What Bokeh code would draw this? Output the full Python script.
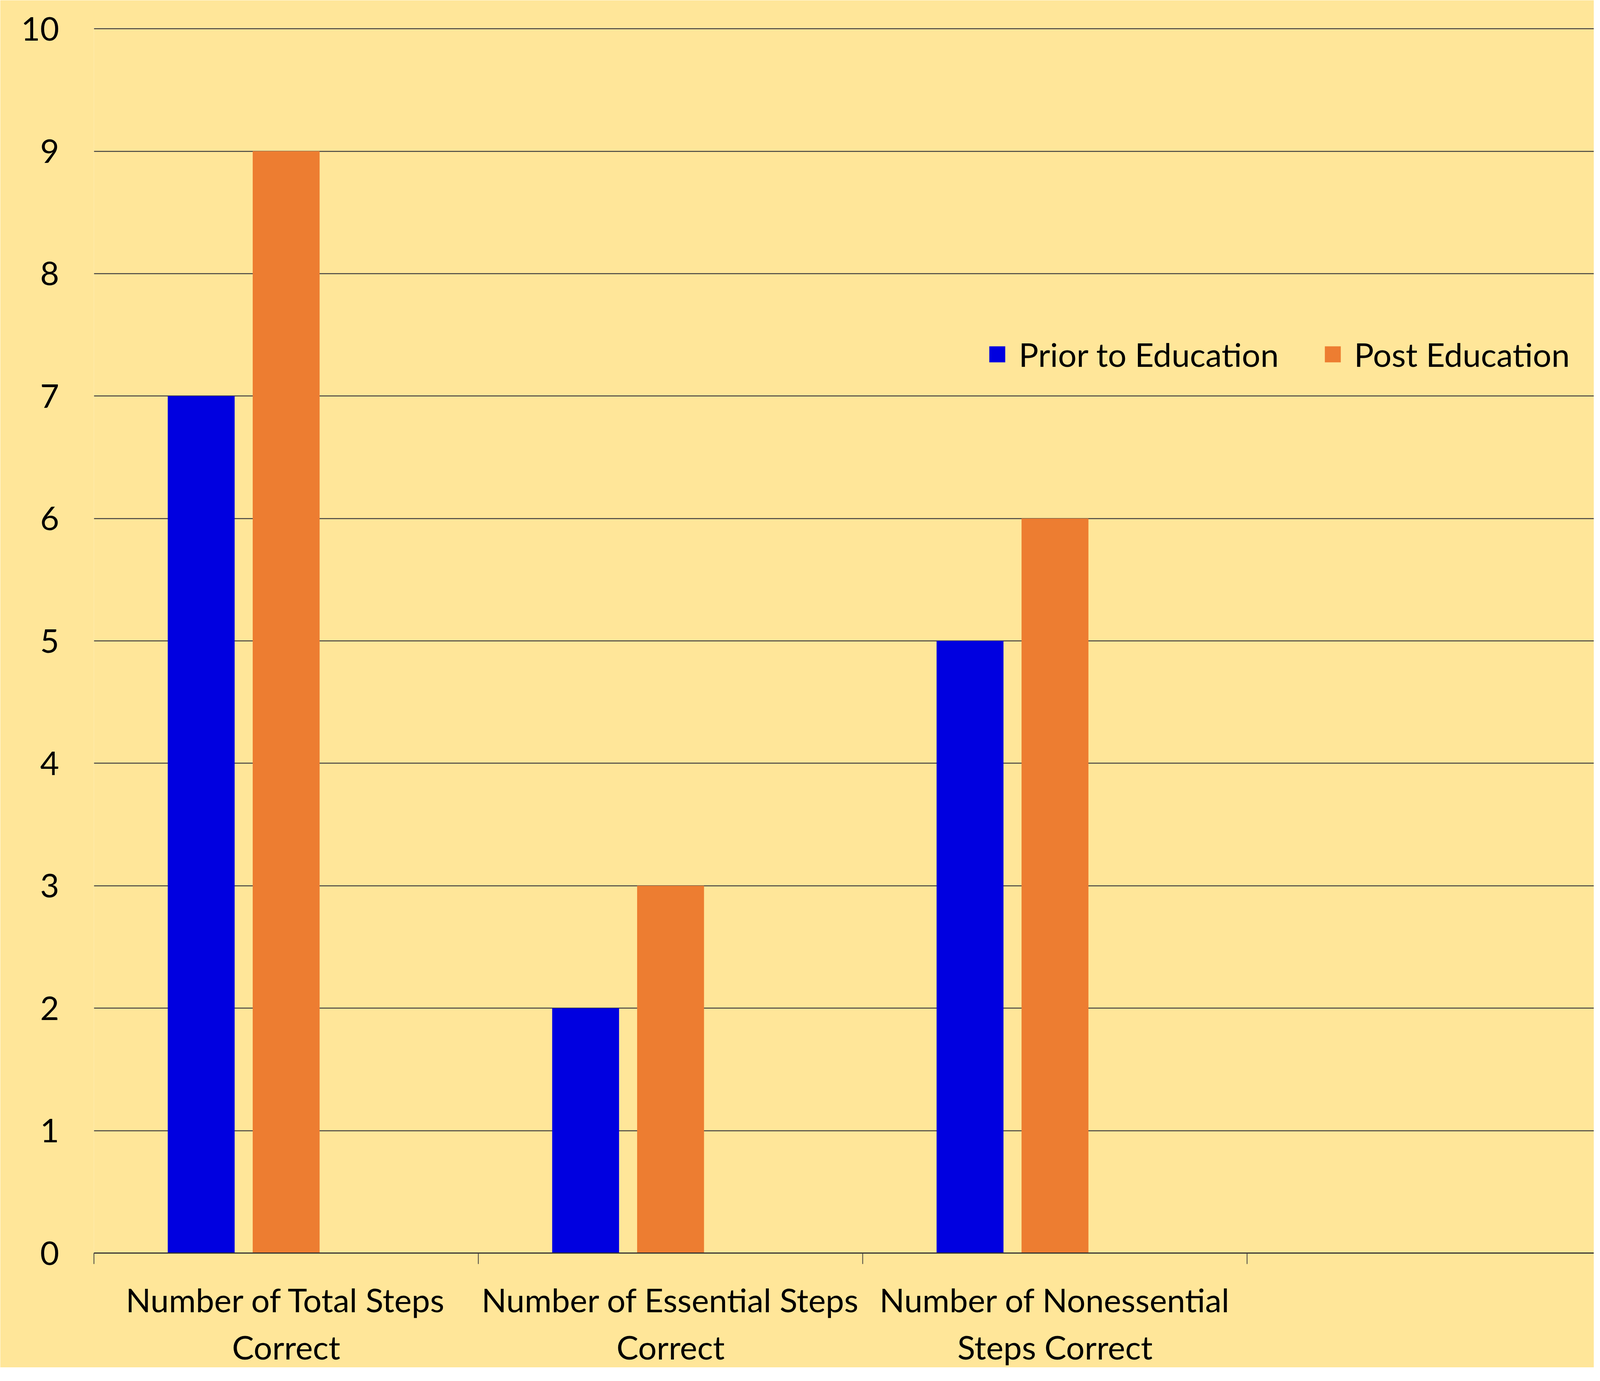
import numpy as np
from bokeh.plotting import figure
from bokeh.models import Range1d, FixedTicker, ColumnDataSource, Legend, LegendItem
from bokeh.embed import file_html
from bokeh.resources import INLINE

# ---- data ----
categories = [
    "Number of Total Steps\nCorrect",
    "Number of Essential Steps\nCorrect",
    "Number of Nonessential\nSteps Correct",
]
series_names = ["Prior to Education", "Post Education"]
prior = [7, 2, 5]
post = [9, 3, 6]
y_ticks = [0, 1, 2, 3, 4, 5, 6, 7, 8, 9, 10]

# ---- styles ----
BG = "#FFE699"
BLUE = "#0000E0"
ORANGE = "#ED7D31"
GRID = "#404040"
FONT = "Lato"
FS = "84px"

idx = np.arange(len(categories))
src = ColumnDataSource(dict(
    x_prior=idx + 0.279,
    x_post=idx + 0.5,
    prior=prior,
    post=post,
))

p = figure(
    width=4080, height=3500,
    x_range=Range1d(0, 3.902), y_range=Range1d(0, 10.01),
    output_backend="svg", toolbar_location=None,
    min_border_left=240, min_border_right=0,
    min_border_top=70, min_border_bottom=262,
)
p.background_fill_color = BG
p.border_fill_color = BG
p.outline_line_color = None

r1 = p.vbar(x="x_prior", top="prior", width=0.174, bottom=0, source=src,
            fill_color=BLUE, line_color=None)
r2 = p.vbar(x="x_post", top="post", width=0.174, bottom=0, source=src,
            fill_color=ORANGE, line_color=None)

# x axis
xa = p.xaxis[0]
xa.ticker = FixedTicker(ticks=list(idx + 0.5), minor_ticks=list(range(len(categories) + 1)))
xa.major_label_overrides = {float(i + 0.5): c for i, c in enumerate(categories)}
xa.major_tick_in = 0
xa.major_tick_out = 0
xa.minor_tick_in = 0
xa.minor_tick_out = 28
xa.minor_tick_line_color = GRID
xa.minor_tick_line_width = 2
xa.axis_line_color = "#333333"
xa.axis_line_width = 3
xa.major_label_text_font = FONT
xa.major_label_text_font_size = FS
xa.major_label_text_color = "black"
xa.major_label_standoff = 40

# y axis
ya = p.yaxis[0]
ya.ticker = FixedTicker(ticks=y_ticks)
ya.axis_line_color = None
ya.major_tick_line_color = None
ya.minor_tick_line_color = None
ya.major_label_text_font = FONT
ya.major_label_text_font_size = FS
ya.major_label_text_color = "black"
ya.major_label_standoff = 83

p.xgrid.grid_line_color = None
p.ygrid.ticker = FixedTicker(ticks=y_ticks)
p.ygrid.grid_line_color = GRID
p.ygrid.grid_line_width = 2.5

legend = Legend(
    items=[LegendItem(label=series_names[0], renderers=[r1]),
           LegendItem(label=series_names[1], renderers=[r2])],
    orientation="horizontal",
    location=(2287, 2250),
    background_fill_alpha=0,
    border_line_color=None,
    padding=0, margin=0, spacing=112,
    glyph_width=51, glyph_height=51,
    label_standoff=30,
    label_text_font=FONT, label_text_font_size=FS,
    label_text_color="black",
)
p.add_layout(legend)

open("out.html", "w").write(file_html(p, INLINE))
